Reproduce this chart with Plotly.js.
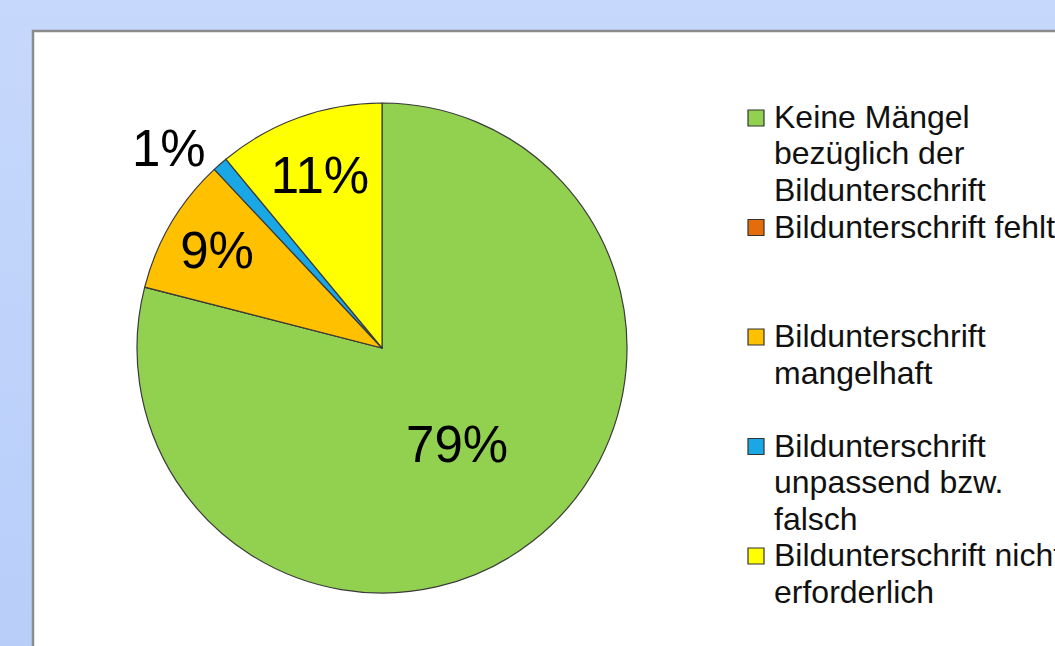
<!DOCTYPE html>
<html><head><meta charset="utf-8">
<script src="https://cdn.plot.ly/plotly-3.0.1.min.js"></script>
<style>
html,body{margin:0;padding:0;width:1055px;height:646px;overflow:hidden;background:linear-gradient(180deg,#c6d8fb 0%,#b8cef9 100%);}
#chart{width:1055px;height:646px;}
</style>
</head><body><div id="chart"></div>
<script>
const categories = [
  "Keine Mängel bezüglich der Bildunterschrift",
  "Bildunterschrift fehlt",
  "Bildunterschrift mangelhaft",
  "Bildunterschrift unpassend bzw. falsch",
  "Bildunterschrift nicht erforderlich"
];
const legendLines = [
  ["Keine Mängel", "bezüglich der", "Bildunterschrift"],
  ["Bildunterschrift fehlt"],
  ["Bildunterschrift", "mangelhaft"],
  ["Bildunterschrift", "unpassend bzw.", "falsch"],
  ["Bildunterschrift nicht", "erforderlich"]
];
const values = [79, 0, 9, 1, 11];
const colors = ["#92d050", "#e46c0a", "#ffc000", "#1aa7e6", "#ffff00"];
const textPositions = ["inside", "none", "inside", "outside", "inside"];

const W = 1055, H = 646;
const FONT = "Liberation Sans, Arial, sans-serif";
const px = x => x / W;
const py = y => 1 - y / H;

const trace = {
  type: "pie",
  labels: categories,
  values: values,
  sort: false,
  direction: "clockwise",
  rotation: 0,
  marker: { colors: colors, line: { color: "#3a3a3a", width: 1.2 } },
  texttemplate: "%{percent:.0%}",
  textposition: textPositions,
  insidetextorientation: "horizontal",
  textfont: { family: FONT, size: 51, color: "#000000" },
  outsidetextfont: { family: FONT, size: 51, color: "#000000" },
  insidetextfont: { family: FONT, size: 51, color: "#000000" },
  hoverinfo: "label+percent",
  showlegend: false,
  domain: { x: [px(137), px(627)], y: [py(593), py(103)] }
};

const shapes = [{
  type: "rect", xref: "paper", yref: "paper", layer: "below",
  x0: px(33), x1: px(1070), y0: py(660), y1: py(31),
  fillcolor: "#ffffff", line: { color: "#8c8c8c", width: 2.5 }
}];
const annotations = [];
const ITEM_START = 117, ITEM_STEP = 109.5, LINE_STEP = 36.5;
legendLines.forEach((lines, i) => {
  const y0 = ITEM_START + i * ITEM_STEP;
  shapes.push({
    type: "rect", xref: "paper", yref: "paper",
    x0: px(748), x1: px(764), y0: py(y0 + 9), y1: py(y0 - 7),
    fillcolor: colors[i], line: { color: "#333333", width: 1.2 }
  });
  lines.forEach((t, j) => {
    annotations.push({
      xref: "paper", yref: "paper", x: px(772), y: py(y0 + j * LINE_STEP),
      xanchor: "left", yanchor: "middle", showarrow: false, text: t,
      font: { family: FONT, size: 32, color: "#111111" }
    });
  });
});

const layout = {
  width: W, height: H,
  margin: { l: 0, r: 0, t: 0, b: 0 },
  paper_bgcolor: "rgba(0,0,0,0)",
  plot_bgcolor: "rgba(0,0,0,0)",
  shapes: shapes,
  annotations: annotations,
  showlegend: false
};
Plotly.newPlot("chart", [trace], layout, { displayModeBar: false, staticPlot: true });
</script>
</body></html>
